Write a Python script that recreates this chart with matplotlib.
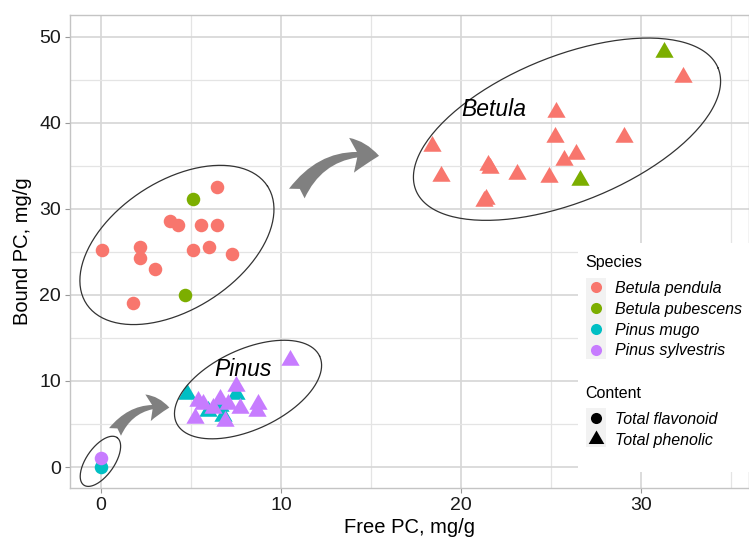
import numpy as np
import matplotlib
matplotlib.use("Agg")
import matplotlib.pyplot as plt
from matplotlib.lines import Line2D
from matplotlib.patches import FancyArrowPatch, Rectangle
from matplotlib.path import Path

plt.rcParams['font.family'] = ['Liberation Sans', 'DejaVu Sans']

species = ["Betula pendula", "Betula pubescens", "Pinus mugo", "Pinus sylvestris"]
colors = ["#F8766D", "#7CAE00", "#00BFC4", "#C77CFF"]

# Total flavonoid (circles): free PC, bound PC
flav_x = {
    "Betula pendula": [6.43, 3.83, 4.3, 5.56, 6.43, 0.04, 2.17, 2.17, 5.13, 6.0, 7.26, 3.02, 1.76],
    "Betula pubescens": [5.13, 4.69],
    "Pinus mugo": [0.0],
    "Pinus sylvestris": [0.0],
}
flav_y = {
    "Betula pendula": [32.5, 28.6, 28.1, 28.1, 28.1, 25.2, 25.6, 24.3, 25.2, 25.6, 24.7, 23.0, 19.1],
    "Betula pubescens": [31.1, 20.0],
    "Pinus mugo": [0.0],
    "Pinus sylvestris": [1.0],
}

# Total phenolic (triangles)
phen_x = {
    "Betula pendula": [32.35, 25.3, 25.2, 29.05, 18.4, 26.4, 25.7, 21.5, 21.6, 18.9, 23.1, 24.9, 21.4, 21.3],
    "Betula pubescens": [31.3, 26.6],
    "Pinus mugo": [4.76, 7.5, 6.6, 5.96, 6.8],
    "Pinus sylvestris": [10.5, 7.5, 5.4, 5.65, 6.6, 7.07, 7.72, 8.74, 8.65, 5.2, 6.9, 6.2],
}
phen_y = {
    "Betula pendula": [45.3, 41.3, 38.3, 38.3, 37.3, 36.4, 35.7, 35.1, 34.7, 33.8, 34.0, 33.7, 31.1, 30.9],
    "Betula pubescens": [48.2, 33.3],
    "Pinus mugo": [8.5, 8.5, 7.1, 6.5, 5.9],
    "Pinus sylvestris": [12.4, 9.4, 7.7, 7.3, 7.9, 7.3, 6.9, 7.3, 6.5, 5.7, 5.4, 6.8],
}

# equilateral triangle centred on its centroid (like ggplot shape 17)
tri = Path([(0, 1), (-0.866, -0.5), (0.866, -0.5), (0, 1)],
           [Path.MOVETO, Path.LINETO, Path.LINETO, Path.CLOSEPOLY])

W, H = 749, 540
fig = plt.figure(figsize=(7.49, 5.40), dpi=100)
ax = fig.add_axes([70 / W, (H - 488) / H, (W - 70) / W, (488 - 15) / H])

xlim = (-1.72, 36.0)
ylim = (-2.44, 52.52)
ax.set_xlim(*xlim)
ax.set_ylim(*ylim)

for sp, c in zip(species, colors):
    ax.scatter(flav_x[sp], flav_y[sp], s=95, color=c, marker="o", linewidths=0, zorder=3)
for sp, c in zip(species, colors):
    ax.scatter(phen_x[sp], phen_y[sp], s=230, color=c, marker=tri, linewidths=0, zorder=3)

# grid / frame in the style of theme_light
ax.set_xticks([0, 10, 20, 30])
ax.set_yticks([0, 10, 20, 30, 40, 50])
ax.set_xticks([5, 15, 25, 35], minor=True)
ax.set_yticks([5, 15, 25, 35, 45], minor=True)
ax.grid(True, which="major", color="#D6D6D6", linewidth=1.2, zorder=0)
ax.grid(True, which="minor", color="#E4E4E4", linewidth=0.9, zorder=0)
ax.set_axisbelow(True)
for s in ax.spines.values():
    s.set_color("#C4C4C4")
    s.set_linewidth(1.0)
ax.tick_params(which="major", length=3.5, color="#999999", labelsize=14, labelcolor="#1a1a1a", pad=3)
ax.tick_params(which="minor", length=0)
ax.set_xlabel("Free PC, mg/g", fontsize=14.5, labelpad=3)
ax.set_ylabel("Bound PC, mg/g", fontsize=14.5, labelpad=5)

# pixel scale for drawing hand-drawn style ellipses
sx = (W - 70) / (xlim[1] - xlim[0])
sy = (488 - 15) / (ylim[1] - ylim[0])


def ellipse(cx, cy, a, b, ang):
    t = np.linspace(0, 2 * np.pi, 200)
    th = np.radians(ang)
    dx = a * np.cos(t) * np.cos(th) - b * np.sin(t) * np.sin(th)
    dy = a * np.cos(t) * np.sin(th) + b * np.sin(t) * np.cos(th)
    ax.plot(cx + dx / sx, cy + dy / sy, color="#333333", linewidth=0.9, zorder=4)


ellipse(4.22, 25.8, 108, 64, 33)
ellipse(25.89, 39.25, 163, 73, 22)
ellipse(8.17, 9.0, 79, 40, 25)
ellipse(-0.03, 0.66, 29, 14, 55)

ax.text(21.8, 41.5, "Betula", fontsize=16.5, style="italic", ha="center", va="center", zorder=5)
ax.text(7.9, 11.3, "Pinus", fontsize=16.5, style="italic", ha="center", va="center", zorder=5)

arrow_style = "fancy,head_length=0.9,head_width=1.15,tail_width=0.6"
ax.add_patch(FancyArrowPatch((10.8, 31.5), (15.6, 36.1), connectionstyle="arc3,rad=-0.35",
                             arrowstyle=arrow_style, mutation_scale=22, color="#808080",
                             linewidth=0, zorder=4))
ax.add_patch(FancyArrowPatch((0.7, 3.8), (3.95, 6.85), connectionstyle="arc3,rad=-0.35",
                             arrowstyle=arrow_style, mutation_scale=17, color="#808080",
                             linewidth=0, zorder=4))

# legend area
fig.patches.append(Rectangle((578 / W, (H - 472) / H), (W - 578) / W, (472 - 243) / H,
                             transform=fig.transFigure, facecolor="white", edgecolor="none", zorder=6))
fig.patches.append(Rectangle((586 / W, (H - 359) / H), 20 / W, 81 / H,
                             transform=fig.transFigure, facecolor="#F2F2F2", edgecolor="none", zorder=7))
fig.patches.append(Rectangle((586 / W, (H - 447) / H), 20 / W, 39 / H,
                             transform=fig.transFigure, facecolor="#F2F2F2", edgecolor="none", zorder=7))

fig.text(585 / W, (H - 262) / H, "Species", fontsize=11.5, ha="left", va="center", zorder=8)
fig.text(585 / W, (H - 393) / H, "Content", fontsize=11.5, ha="left", va="center", zorder=8)

sp_handles = [Line2D([], [], linestyle="none", marker="o", markersize=8, color=c, markeredgewidth=0)
              for c in colors]
ct_handles = [Line2D([], [], linestyle="none", marker="o", markersize=8, color="black", markeredgewidth=0),
              Line2D([], [], linestyle="none", marker=tri, markersize=13, color="black", markeredgewidth=0)]

leg_kw = dict(frameon=False, handlelength=1.0, handletextpad=0.69, labelspacing=0.36, borderpad=0,
              borderaxespad=0, prop={"style": "italic", "size": 11.5})
leg1 = fig.legend(sp_handles, species, loc="upper left",
                  bbox_to_anchor=(588 / W, (H - 281) / H), **leg_kw)
leg2 = fig.legend(ct_handles, ["Total flavonoid", "Total phenolic"], loc="upper left",
                  bbox_to_anchor=(588 / W, (H - 412) / H), **leg_kw)
for lg in (leg1, leg2):
    lg.set_zorder(8)

fig.savefig("out.png", dpi=100)
